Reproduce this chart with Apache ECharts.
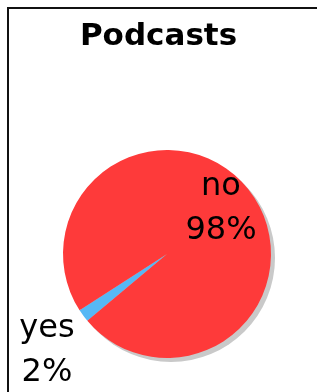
<!DOCTYPE html>
<html>
<head>
<meta charset="utf-8">
<script src="https://cdn.jsdelivr.net/npm/echarts@6/dist/echarts.min.js"></script>
<style>
  html, body { margin: 0; padding: 0; background: #fff; }
  #pie { width: 317px; height: 392px; }
</style>
</head>
<body>
<div id="pie"></div>
<script>
// 数据
const categories = ['yes', 'no'];
const values = [2, 98];
const colors = ['#56B8F5', '#FE3A3A'];

const myChart = echarts.init(document.getElementById('pie'));

const FONT = 'DejaVu Sans';
const center = [167, 254];
const radius = 104;

// 标签位置
const labelPos = {
  yes: { x: 47, y: 351 },
  no: { x: 221, y: 209 }
};

myChart.setOption({
  animation: false,
  title: {
    text: 'Podcasts',
    left: 'center',
    top: 16,
    textStyle: {
      fontFamily: FONT,
      fontWeight: 'bold',
      fontSize: 31,
      color: '#000'
    }
  },
  graphic: [
    {
      type: 'rect',
      shape: { x: 8, y: 8, width: 400, height: 500 },
      style: { fill: 'none', stroke: '#111', lineWidth: 2 },
      silent: true
    }
  ],
  series: [
    {
      // 阴影
      name: 'shadow',
      type: 'pie',
      silent: true,
      center: [center[0] + 4, center[1] + 4],
      radius: [0, radius],
      label: { show: false },
      labelLine: { show: false },
      data: [{ value: 1, name: '' }],
      itemStyle: { color: '#C9C9C9' }
    },
    {
      name: 'Podcasts',
      type: 'pie',
      center: center,
      radius: [0, radius],
      startAngle: 220,
      clockwise: true,
      label: {
        show: true,
        position: 'inside',
        formatter: '{b}\n{d}%',
        fontFamily: FONT,
        fontSize: 32,
        lineHeight: 44,
        color: '#000',
        align: 'center',
        verticalAlign: 'middle'
      },
      labelLine: { show: false },
      labelLayout: function (params) {
        const p = labelPos[categories[params.dataIndex]];
        return { x: p.x, y: p.y, align: 'center', verticalAlign: 'middle' };
      },
      itemStyle: { borderWidth: 0 },
      data: categories.map((c, i) => ({
        name: c,
        value: values[i],
        itemStyle: { color: colors[i] }
      }))
    }
  ]
});

window.onresize = function () {
  myChart.resize();
};
</script>
</body>
</html>
